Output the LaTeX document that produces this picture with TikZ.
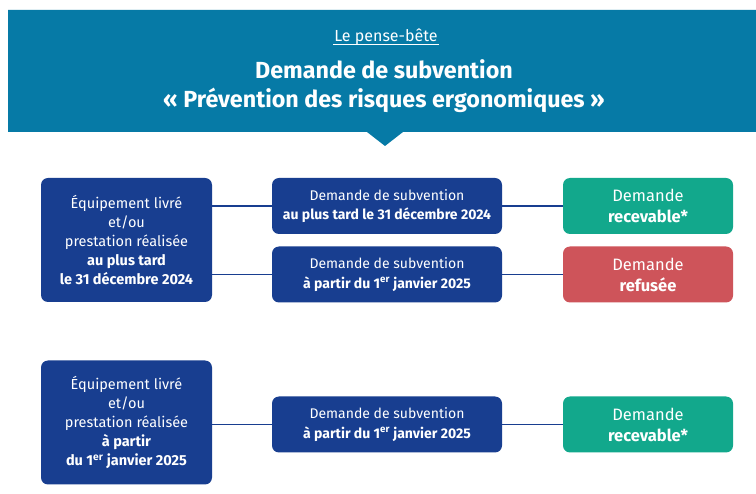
\documentclass[tikz,border=0pt]{standalone}
\usepackage{fontspec}
\setmainfont{Fira Sans}
\usetikzlibrary{positioning, calc}
\definecolor{bandblue}{RGB}{6, 122, 166}
\definecolor{navy1}{RGB}{24, 62, 144}
\definecolor{green1}{RGB}{18, 168, 140}
\definecolor{red1}{RGB}{206, 84, 90}
\tikzset{
  box/.style={rounded corners=7pt, text=white, align=center, inner sep=2pt},
  leftbox/.style={box, fill=navy1, minimum width=171pt, minimum height=124pt, font=\fontsize{14.5}{19}\selectfont},
  midbox/.style={box, fill=navy1, minimum width=230pt, minimum height=56pt, font=\fontsize{14}{19.5}\selectfont},
  endbox/.style={box, minimum width=170pt, minimum height=56pt, font=\fontsize{16.5}{21}\selectfont},
  link/.style={draw=navy1, line width=1.8pt}
}

\begin{document}
\begin{tikzpicture}[x=1pt, y=-1pt]
  \useasboundingbox (0,0) rectangle (756,494);
  \fill[white] (0,0) rectangle (756,494);

  % header band with its pointer
  \fill[bandblue] (8,10) -- (756,10) -- (756,132) -- (403,132) -- (385,146) -- (367,132) -- (8,132) -- cycle;
  \node[text=white, font=\fontsize{16}{18}\selectfont, inner sep=1pt] (memo) at (386,37) {Le pense-bête};
  \draw[white, line width=0.7pt] ($(memo.south west)+(0,-2)$) -- ($(memo.south east)+(0,-2)$);
  \node[text=white, font=\bfseries\fontsize{23.3}{29}\selectfont, align=center] (title) at (384,86)
    {Demande de subvention\\« Prévention des risques ergonomiques »};

  % first case: delivered by 31/12/2024
  \node[leftbox] (deliv1) at (126.5,240) {Équipement livré\\et/ou\\prestation réalisée\\\textbf{au plus tard}\\\textbf{le 31 décembre 2024}};
  \node[midbox] (req1) at (387,206) {Demande de subvention\\\textbf{au plus tard le 31 décembre 2024}};
  \node[midbox] (req2) at (387,274.5) {Demande de subvention\\\textbf{à partir du 1\textsuperscript{er} janvier 2025}};
  \node[endbox, fill=green1] (ok1) at (648,206) {Demande\\\textbf{recevable*}};
  \node[endbox, fill=red1] (no1) at (648,274.5) {Demande\\\textbf{refusée}};

  % second case: delivered from 01/01/2025
  \node[leftbox] (deliv2) at (126.5,422.5) {Équipement livré\\et/ou\\prestation réalisée\\\textbf{à partir}\\\textbf{du 1\textsuperscript{er} janvier 2025}};
  \node[midbox] (req3) at (387,424.5) {Demande de subvention\\\textbf{à partir du 1\textsuperscript{er} janvier 2025}};
  \node[endbox, fill=green1] (ok2) at (648,424.5) {Demande\\\textbf{recevable*}};

  % connectors
  \draw[link] (req1.west -| deliv1.east) -- (req1.west);
  \draw[link] (req2.west -| deliv1.east) -- (req2.west);
  \draw[link] (req1) -- (ok1);
  \draw[link] (req2) -- (no1);
  \draw[link] (req3.west -| deliv2.east) -- (req3.west);
  \draw[link] (req3) -- (ok2);
\end{tikzpicture}
\end{document}
